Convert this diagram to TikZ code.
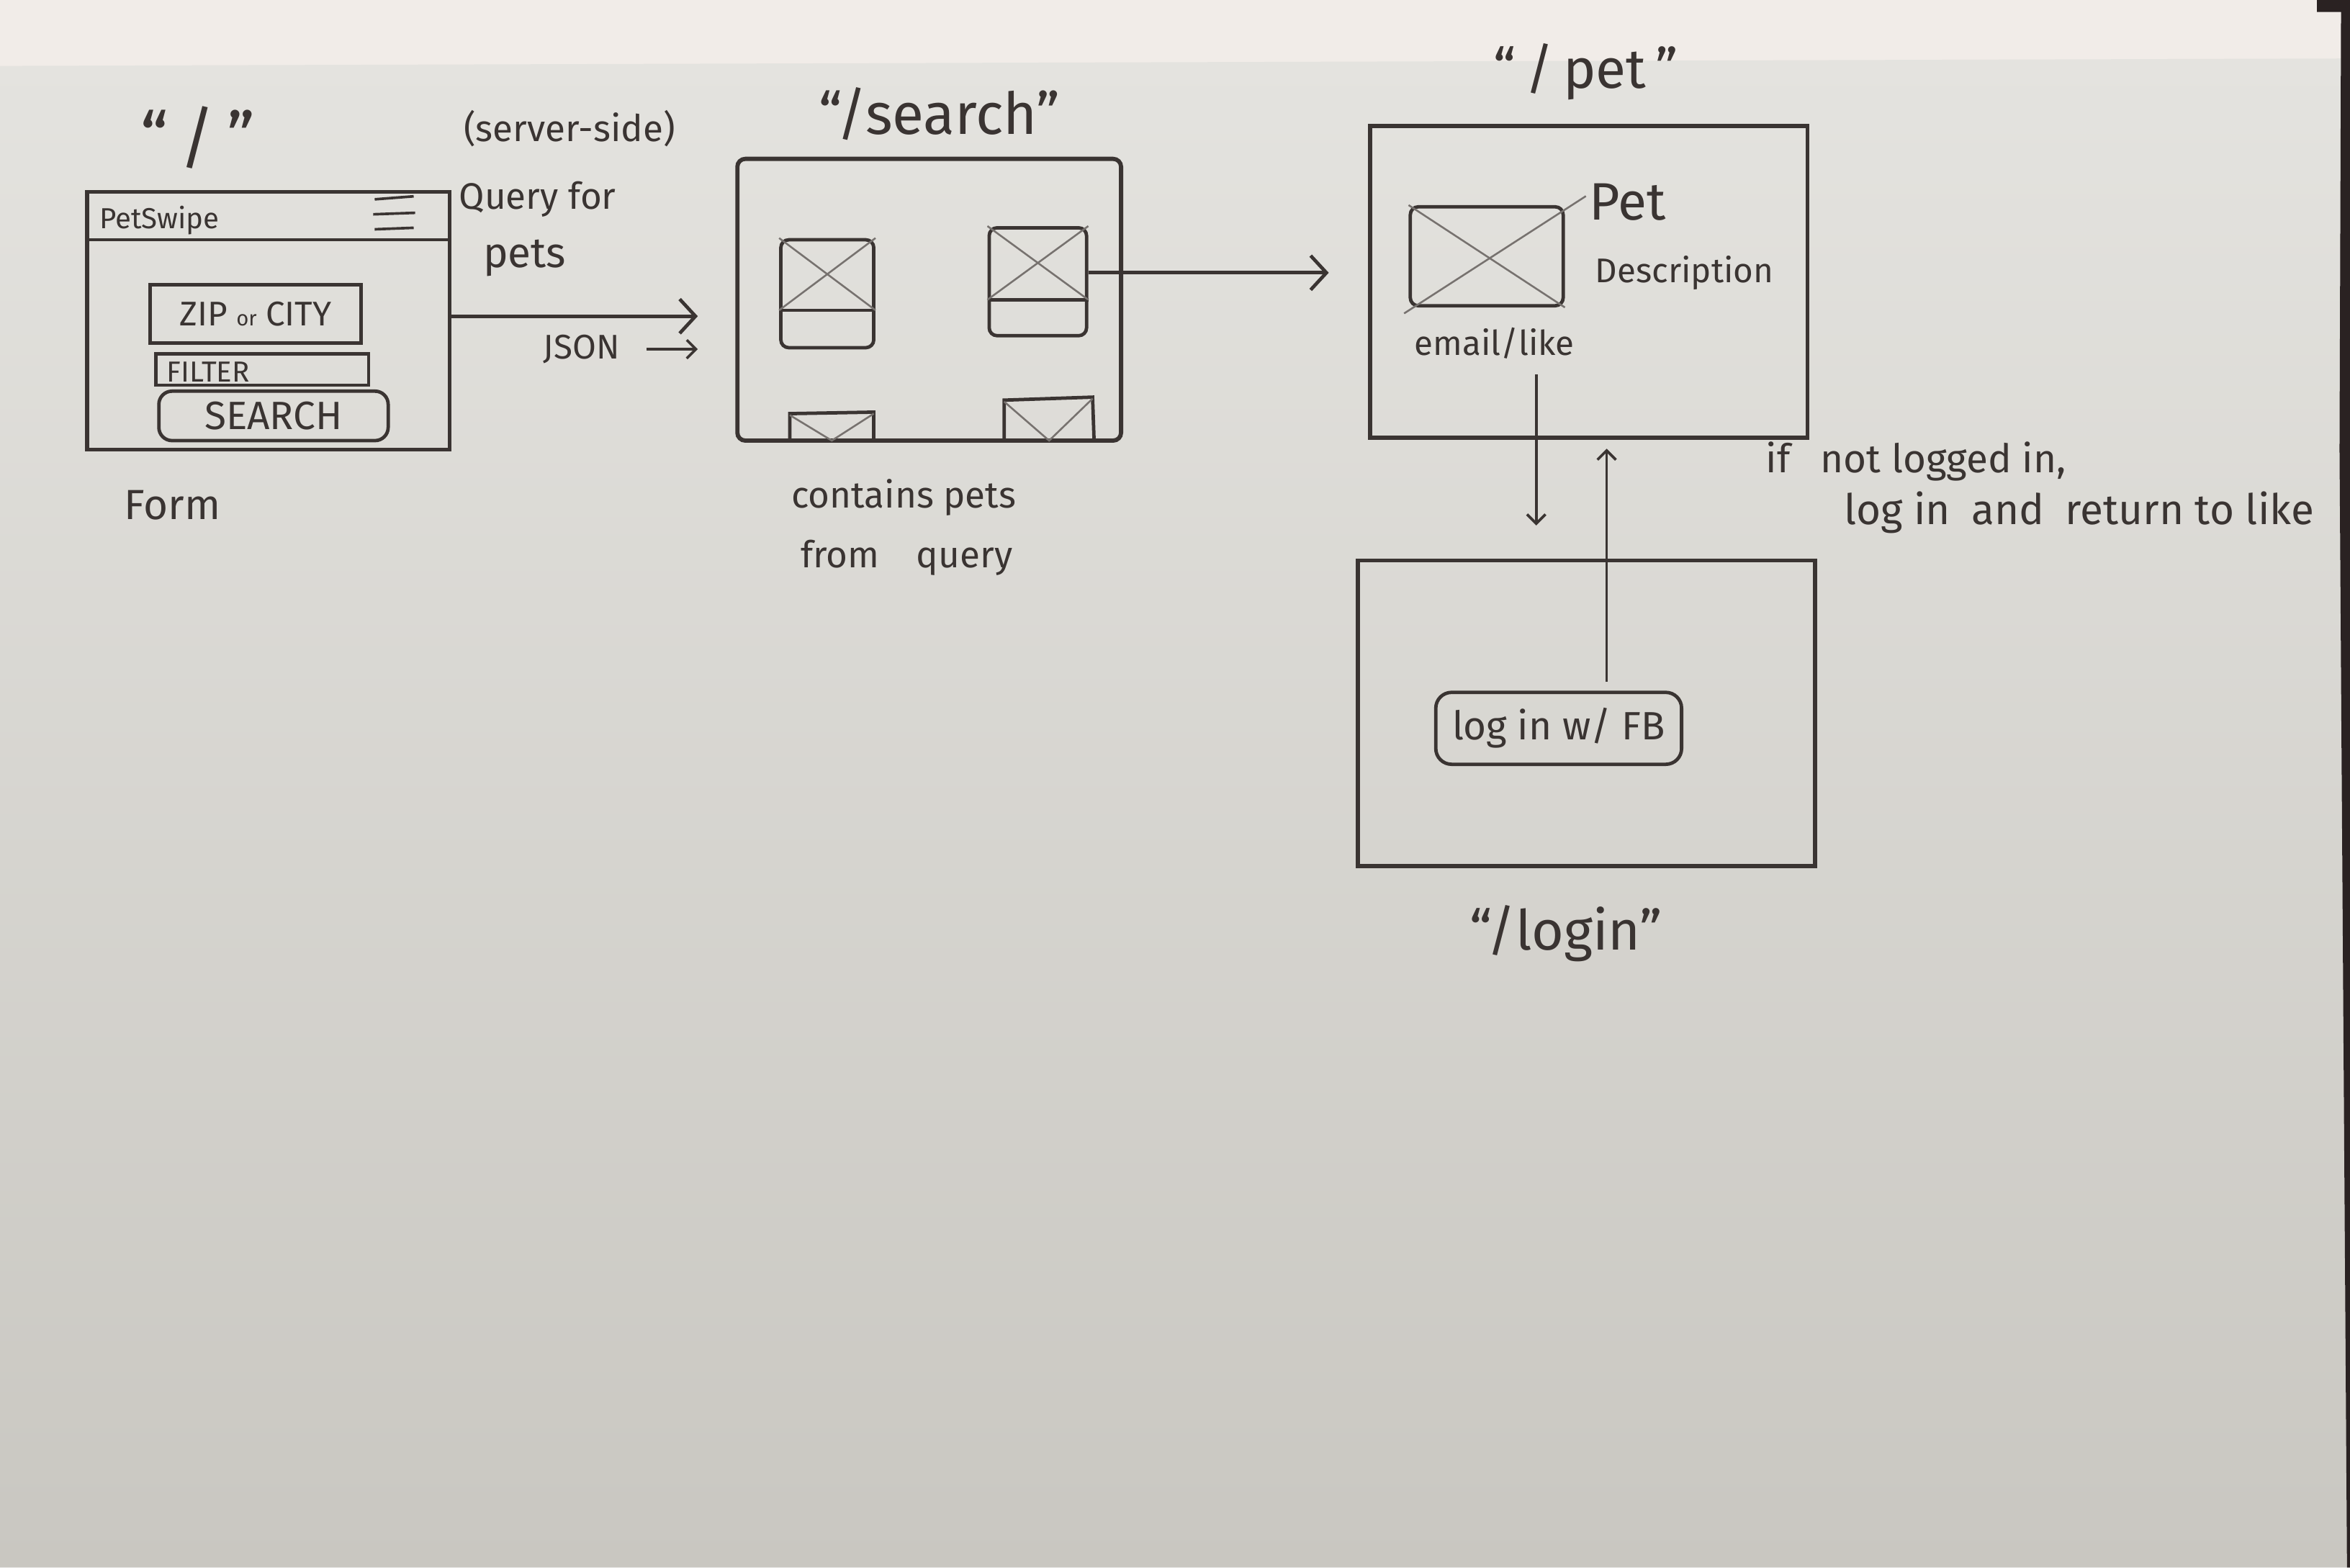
\documentclass[tikz,border=0pt]{standalone}
\usepackage{fontspec}
\setmainfont{Fira Sans}
\usetikzlibrary{arrows.meta,fit}
\definecolor{ink}{HTML}{3A3432}
\definecolor{paperTop}{HTML}{E4E3DF}
\definecolor{paperBot}{HTML}{C9C7C1}
\definecolor{wall}{HTML}{F1ECE8}
\definecolor{shadow}{HTML}{2A2222}
\definecolor{xline}{HTML}{77726F}
\begin{document}
\begin{tikzpicture}[x=0.2mm,y=-0.2mm,
  screen/.style={draw=ink, line width=1.6pt, inner sep=0pt},
  widget/.style={draw=ink, line width=1.3pt, inner sep=0pt},
  lbl/.style={text=ink, inner sep=0pt, font=\fontsize{#1}{#1}\selectfont},
  xl/.style={draw=xline, line width=0.7pt},
  flow/.style={draw=ink, line width=1.3pt, -{Straight Barb[length=6pt,width=13pt]}},
  flowsm/.style={draw=ink, line width=1pt, -{Straight Barb[length=3.5pt,width=7pt]}}]
\useasboundingbox (0,0) rectangle (1568,1046);
% background: wall strip, sheet of paper, dark right edge
\fill[wall] (0,0) rectangle (1568,46);
\shade[top color=paperTop, bottom color=paperBot] (0,44) -- (1568,39) -- (1568,1046) -- (0,1046) -- cycle;
\fill[shadow] (1546,0) -- (1568,0) -- (1568,1046) -- (1566,1046) -- (1561,300) -- (1562,8) -- (1546,8) -- cycle;

% ---------- "/" form screen ----------
\node[screen, fit={(58,128) (300,300)}] (form) {};
\draw[widget] (form.west |- 0,160) -- (form.east |- 0,160);
\node[lbl=11, anchor=west] (brand) at (66,147) {PetSwipe};
\draw[widget, line width=1pt] (250,133) -- (276,131);
\draw[widget, line width=1pt] (249,143) -- (277,142);
\draw[widget, line width=1pt] (250,153) -- (276,152);
\node[widget, fit={(100,190) (241,229)}] (zip) {};
\node[lbl=13] (ziptxt) at (zip.center) {ZIP {\fontsize{8}{8}\selectfont or} CITY};
\node[widget, fit={(104,236) (246,257)}] (filter) {};
\node[lbl=11, anchor=west] (filtertxt) at (111,248) {FILTER};
\node[widget, rounded corners=5pt, fit={(106,261) (259,294)}] (sbtn) {};
\node[lbl=15] (sbtntxt) at (sbtn.center) {SEARCH};

\node[lbl=26] (lroot) at (132,92) {``\,/\,''};
\node[lbl=16] (formlbl) at (115,337) {Form};
\node[lbl=14] (server) at (380,86) {(server-side)};
\node[lbl=14, anchor=west] (query) at (306,133) {Query for};
\node[lbl=16, anchor=west] (pets) at (322,172) {pets};
\node[lbl=13] (json) at (388,233) {JSON};

% ---------- "/search" screen ----------
\node[screen, rounded corners=3pt, fit={(492,106) (748,294)}] (search) {};
\node[lbl=22] (lsearch) at (627,76) {``/search''};
\node[widget, rounded corners=3pt, fit={(521,160) (583,232)}] (card1) {};
\draw[widget] (card1.west |- 0,207) -- (card1.east |- 0,207);
\draw[xl] (card1.north west) -- (card1.east |- 0,207);
\draw[xl] (card1.north east) -- (card1.west |- 0,207);
\node[widget, rounded corners=3pt, fit={(660,152) (725,224)}] (card2) {};
\draw[widget] (card2.west |- 0,200) -- (card2.east |- 0,200);
\draw[xl] (card2.north west) -- (card2.east |- 0,200);
\draw[xl] (card2.north east) -- (card2.west |- 0,200);
\draw[widget] (527,294) -- (527,276) -- (583,275) -- (583,294);
\draw[xl] (527,277) -- (555,294) -- (583,276);
\draw[widget] (670,294) -- (670,267) -- (729,265) -- (730,294);
\draw[xl] (670,268) -- (700,294) -- (729,266);
\node[lbl=14] (contains) at (603,332) {contains pets};
\node[lbl=14] (fromq) at (605,372) {from\quad query};

% ---------- "/pet" screen ----------
\node[screen, fit={(914,84) (1206,292)}] (pet) {};
\node[lbl=21] (lpet) at (1058,48) {``\,/\,pet\,''};
\node[widget, rounded corners=3pt, fit={(941,138) (1043,204)}] (petimg) {};
\draw[xl] (petimg.north west) -- (petimg.south east);
\draw[xl] ([shift={(14,-6)}]petimg.north east) -- ([shift={(-3,4)}]petimg.south west);
\node[lbl=20, anchor=west] (petname) at (1060,135) {Pet};
\node[lbl=13, anchor=west] (desc) at (1064,182) {Description};
\node[lbl=13] (email) at (997,229) {email/like};

% ---------- "/login" screen ----------
\node[screen, fit={(906,374) (1211,578)}] (login) {};
\node[widget, rounded corners=6pt, fit={(958,462) (1122,510)}] (fb) {};
\node[lbl=15] (fbtxt) at (fb.center) {log in w/ FB};
\node[lbl=21] (llogin) at (1045,623) {``/login''};

\node[lbl=15, anchor=west] (cond1) at (1178,308) {if\enspace\ not logged in,};
\node[lbl=16, anchor=west] (cond2) at (1230,342) {log in\enspace and\enspace return to like};

% ---------- connectors ----------
\draw[flow, shorten >=5mm] (form.east |- 0,211) -- (search.west |- 0,211);
\draw[flowsm, shorten <=3.5mm, shorten >=5mm] (json.east) -- (json.east -| search.west);
\draw[flow, shorten >=5.2mm] (card2.east |- 0,182) -- (pet.west |- 0,182);
\coordinate (dn) at (1025,250);
\draw[flowsm, shorten >=4.4mm] (dn) -- (dn |- login.north);
\coordinate (up) at (1072,455);
\draw[flowsm, shorten >=1.2mm] (up) -- (up |- pet.south);
\end{tikzpicture}
\end{document}
